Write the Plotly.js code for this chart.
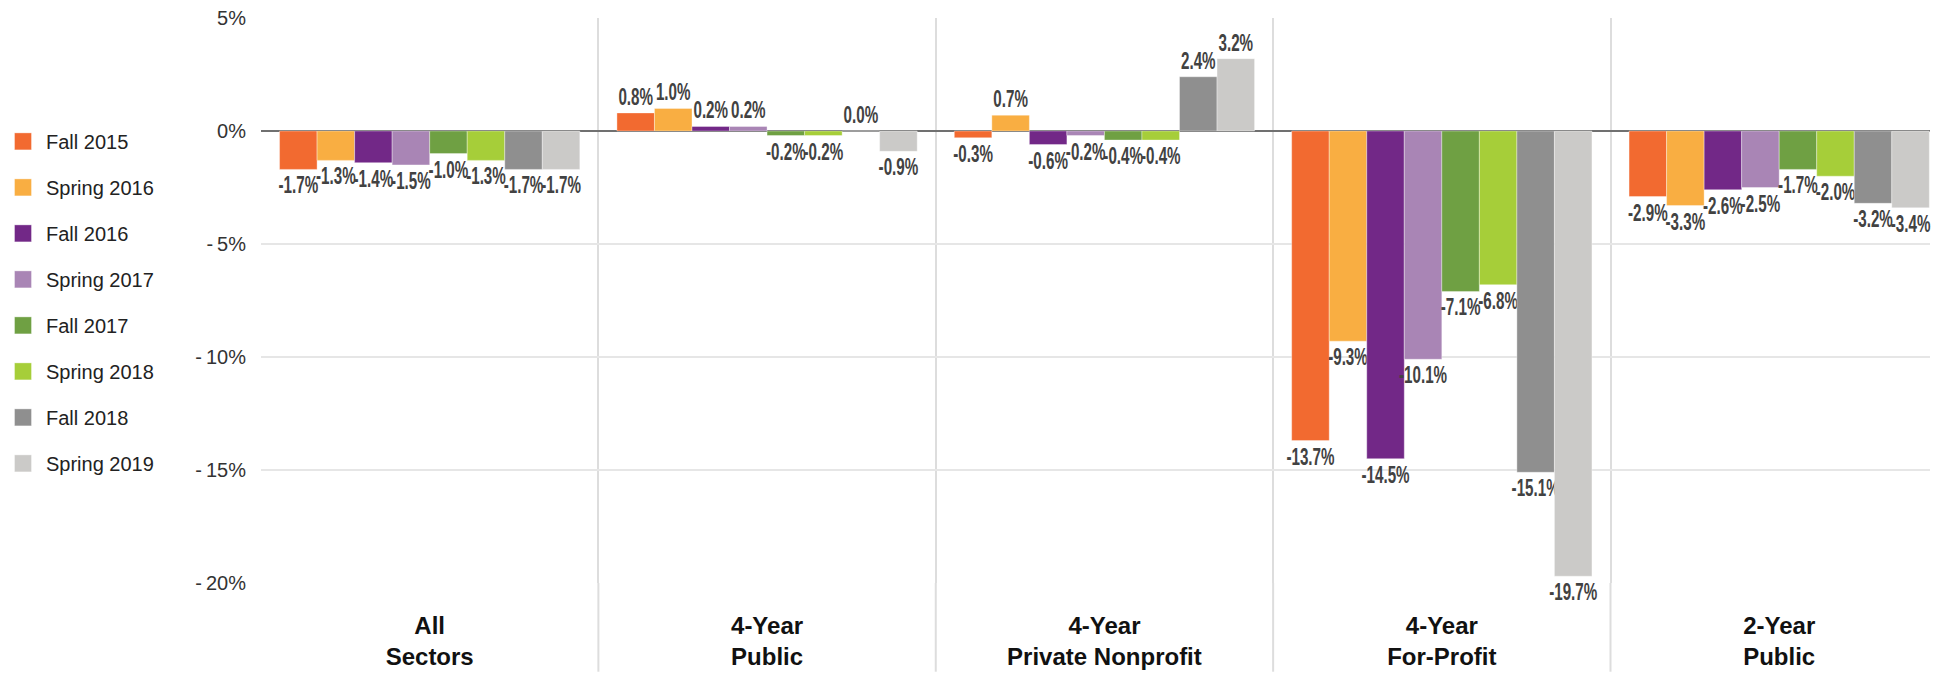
<!DOCTYPE html>
<html>
<head>
<meta charset="utf-8">
<script src="https://cdn.plot.ly/plotly-3.0.1.min.js"></script>
<style>
  html, body { margin: 0; padding: 0; background: #ffffff; }
  #chart { width: 1948px; height: 678px; }
</style>
</head>
<body>
<div id="chart"></div>
<script>
// Categories (x axis)
const categories = ["All<br>Sectors", "4-Year<br>Public", "4-Year<br>Private Nonprofit", "4-Year<br>For-Profit", "2-Year<br>Public"];

// Series names
const seriesNames = ["Fall 2015", "Spring 2016", "Fall 2016", "Spring 2017", "Fall 2017", "Spring 2018", "Fall 2018", "Spring 2019"];

// Series values (% change), one value per category
const fall2015   = [-1.7,  0.8, -0.3, -13.7, -2.9];
const spring2016 = [-1.3,  1.0,  0.7,  -9.3, -3.3];
const fall2016   = [-1.4,  0.2, -0.6, -14.5, -2.6];
const spring2017 = [-1.5,  0.2, -0.2, -10.1, -2.5];
const fall2017   = [-1.0, -0.2, -0.4,  -7.1, -1.7];
const spring2018 = [-1.3, -0.2, -0.4,  -6.8, -2.0];
const fall2018   = [-1.7,  0.0,  2.4, -15.1, -3.2];
const spring2019 = [-1.7, -0.9,  3.2, -19.7, -3.4];

// Y tick labels
const yTickVals = [5, 0, -5, -10, -15, -20];
const yTickText = ["5%", "0%", "-\u20095%", "-\u200910%", "-\u200915%", "-\u200920%"];

const seriesValues = [fall2015, spring2016, fall2016, spring2017, fall2017, spring2018, fall2018, spring2019];
const colors = ["#F26A30", "#F9AE42", "#722887", "#A985B5", "#6FA043", "#A6CE39", "#8F8F8F", "#CBCAC8"];

const mainFont = "Liberation Sans, Arial, Helvetica, sans-serif";

const traces = seriesNames.map((name, i) => ({
  type: "bar",
  name: name,
  legendgroup: "g" + i,
  x: categories,
  y: seriesValues[i],
  marker: { color: colors[i], line: { color: "rgba(255,255,255,0.6)", width: 0.6 } },
  texttemplate: "%{y:.1f}%",
  textposition: "outside",
  constraintext: "none",
  cliponaxis: false,
  textfont: { family: mainFont, size: 23, color: "#424242", weight: "bold" },
  hoverinfo: "skip"
}));

const shapes = [];
for (let i = 1; i < categories.length; i++) {
  shapes.push({
    type: "line", xref: "x", yref: "paper",
    x0: i - 0.5, x1: i - 0.5, y0: 0, y1: -0.157,
    line: { color: "#dddddd", width: 2 },
    layer: "below"
  });
}

const layout = {
  width: 1948,
  height: 678,
  margin: { l: 261, r: 18, t: 18, b: 95 },
  paper_bgcolor: "#ffffff",
  plot_bgcolor: "#ffffff",
  barmode: "group",
  bargap: 0.11,
  bargroupgap: 0,
  font: { family: mainFont, color: "#333333" },
  showlegend: true,
  legend: {
    xref: "container", yref: "container",
    x: 0, y: 0.554, xanchor: "left", yanchor: "middle",
    font: { family: mainFont, size: 20, color: "#222222" },
    traceorder: "grouped",
    tracegroupgap: 17,
    itemwidth: 36,
    maxheight: 660,
    bgcolor: "rgba(0,0,0,0)"
  },
  xaxis: {
    type: "category",
    range: [-0.5, 4.447],
    tickson: "boundaries",
    showgrid: true,
    gridcolor: "#dddddd",
    gridwidth: 2,
    ticks: "",
    ticklabelstandoff: 26,
    tickfont: { family: mainFont, size: 24, color: "#111111", weight: "bold" },
    showline: false,
    zeroline: false,
    fixedrange: true
  },
  yaxis: {
    range: [-20, 5],
    tickvals: yTickVals,
    ticktext: yTickText,
    showgrid: true,
    gridcolor: "#e6e6e6",
    gridwidth: 1.5,
    zeroline: true,
    zerolinecolor: "#707070",
    zerolinewidth: 1.6,
    showline: false,
    ticks: "",
    ticklabelstandoff: 14,
    tickfont: { family: mainFont, size: 20, color: "#333333" },
    fixedrange: true
  },
  shapes: shapes
};

Plotly.newPlot("chart", traces, layout, { displayModeBar: false, staticPlot: true }).then(() => {
  // larger legend swatches
  document.querySelectorAll("#chart .legend .legendpoints path").forEach(p => {
    p.setAttribute("d", "M8.5,8.5H-8.5V-8.5H8.5Z");
  });
  // condensed look for the value labels
  document.querySelectorAll("#chart text.bartext").forEach(t => {
    const w = t.getComputedTextLength();
    t.setAttribute("textLength", (w * 0.66).toFixed(1));
    t.setAttribute("lengthAdjust", "spacingAndGlyphs");
  });
});
</script>
</body>
</html>
